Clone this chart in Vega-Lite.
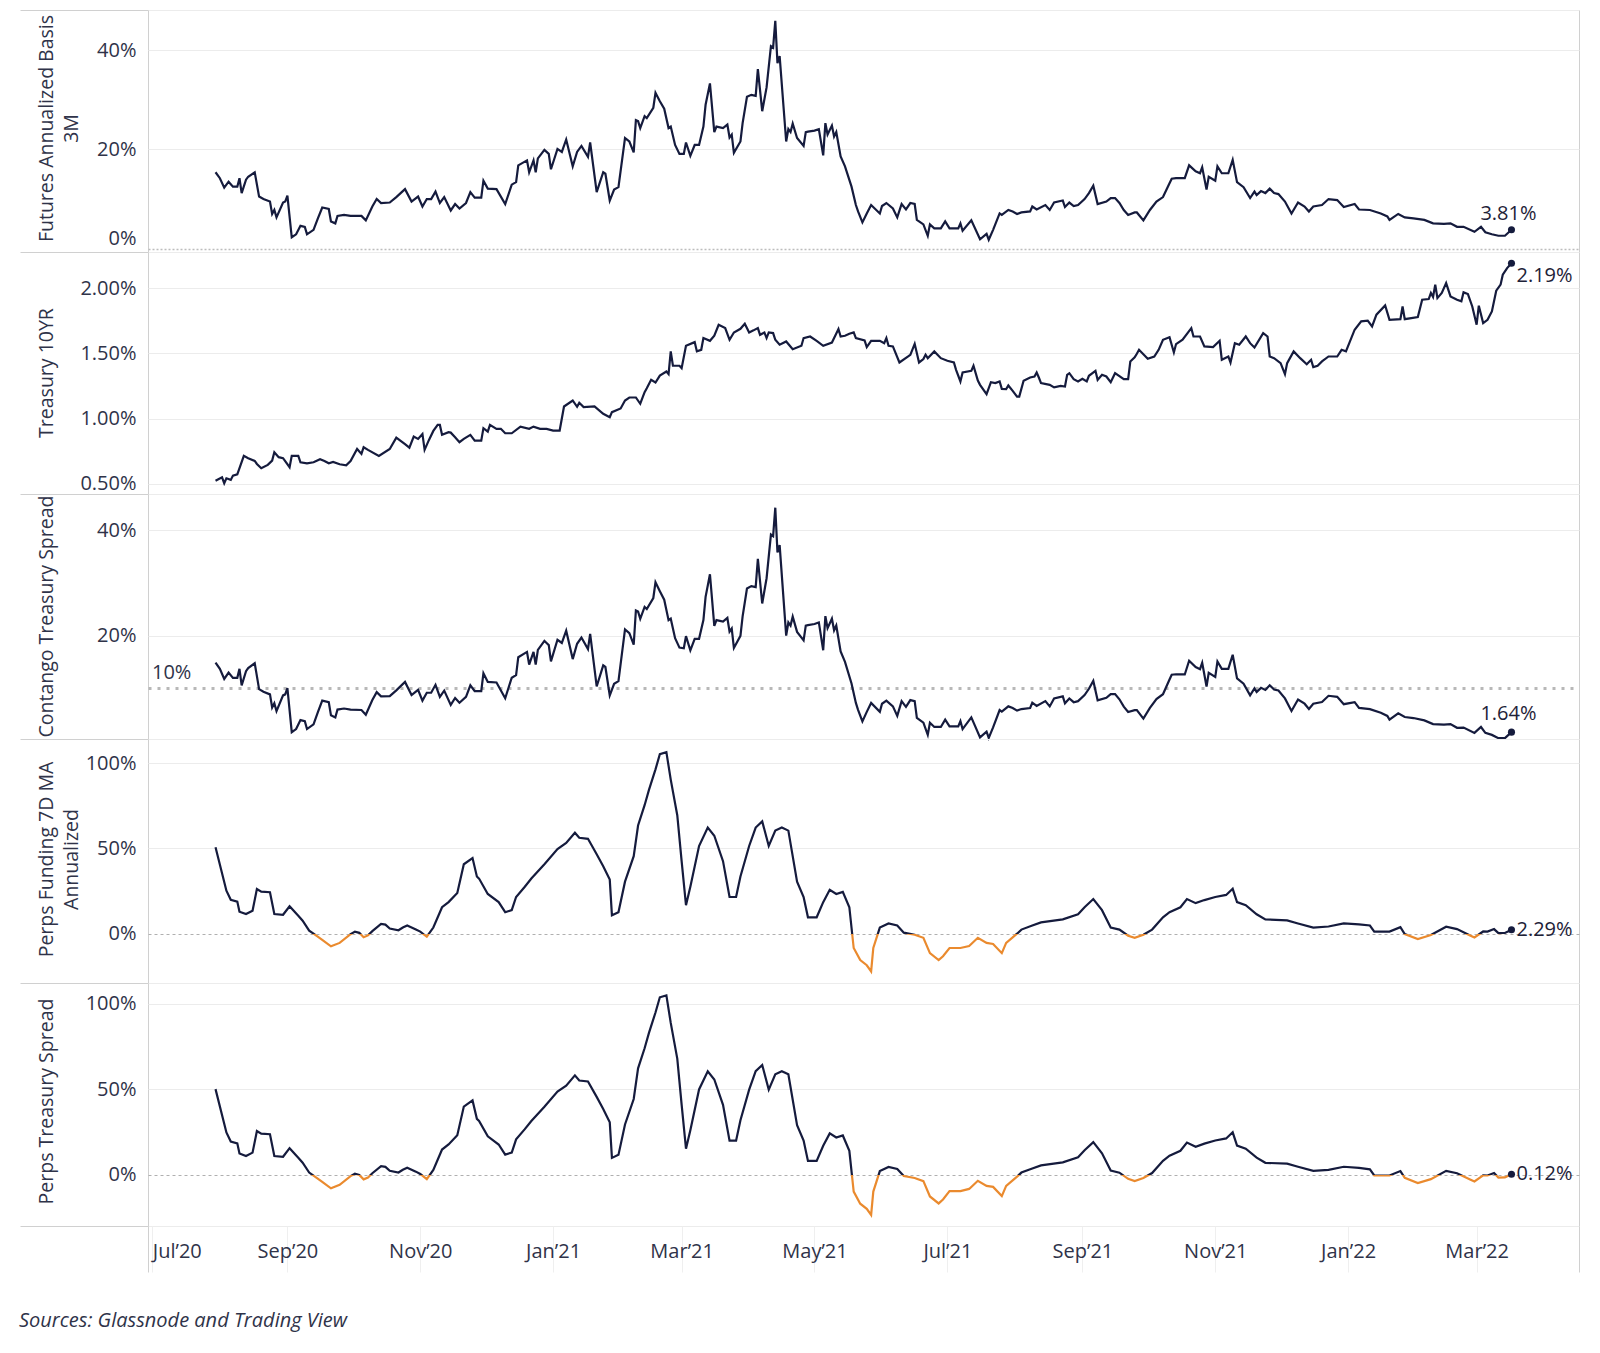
{
"$schema": "https://vega.github.io/schema/vega-lite/v6.json",
"background": "white",
"padding": {"left": 19, "top": 9, "right": 10, "bottom": 10},
"spacing": 0,
"bounds": "flush",
"title": {"text": "Sources: Glassnode and Trading View", "orient": "bottom", "anchor": "start", "frame": "bounds", "fontSize": 20, "fontStyle": "italic", "fontWeight": "normal", "font": "Open Sans", "color": "#2f3349", "offset": 38, "dx": 0},
"config": {
  "view": {"stroke": "#d0d0d0", "strokeWidth": 1},
  "font": "Open Sans",
  "axis": {"labelFont": "Open Sans", "titleFont": "Open Sans", "labelColor": "#2f3349", "titleColor": "#2f3349", "labelFontSize": 20, "titleFontSize": 19.5, "titleFontWeight": "normal", "gridColor": "#ececec", "gridWidth": 1},
  "axisY": {"ticks": true, "tickSize": 128, "tickWidth": 1, "labelPadding": -116, "domain": false}
},
"resolve": {"scale": {"y": "independent"}},
"datasets": {
"fut": [
{"d":"2020-07-30","v":0.154},{"d":"2020-08-01","v":0.142},{"d":"2020-08-03","v":0.123},{"d":"2020-08-05","v":0.135},{"d":"2020-08-07","v":0.125},{"d":"2020-08-09","v":0.125},{"d":"2020-08-10","v":0.142},{"d":"2020-08-11","v":0.112},{"d":"2020-08-13","v":0.139},{"d":"2020-08-14","v":0.145},{"d":"2020-08-17","v":0.154},{"d":"2020-08-19","v":0.105},{"d":"2020-08-21","v":0.100},{"d":"2020-08-24","v":0.095},{"d":"2020-08-25","v":0.070},{"d":"2020-08-26","v":0.078},{"d":"2020-08-27","v":0.063},{"d":"2020-08-30","v":0.093},{"d":"2020-08-31","v":0.095},{"d":"2020-09-01","v":0.107},{"d":"2020-09-03","v":0.023},{"d":"2020-09-05","v":0.029},{"d":"2020-09-07","v":0.046},{"d":"2020-09-09","v":0.044},{"d":"2020-09-10","v":0.029},{"d":"2020-09-13","v":0.038},{"d":"2020-09-15","v":0.061},{"d":"2020-09-17","v":0.083},{"d":"2020-09-20","v":0.080},{"d":"2020-09-21","v":0.055},{"d":"2020-09-23","v":0.051},{"d":"2020-09-24","v":0.066},{"d":"2020-09-27","v":0.068},{"d":"2020-09-30","v":0.066},{"d":"2020-10-05","v":0.066},{"d":"2020-10-07","v":0.057},{"d":"2020-10-10","v":0.085},{"d":"2020-10-12","v":0.100},{"d":"2020-10-14","v":0.092},{"d":"2020-10-18","v":0.093},{"d":"2020-10-21","v":0.104},{"d":"2020-10-25","v":0.120},{"d":"2020-10-28","v":0.095},{"d":"2020-10-31","v":0.105},{"d":"2020-11-02","v":0.085},{"d":"2020-11-04","v":0.100},{"d":"2020-11-06","v":0.100},{"d":"2020-11-08","v":0.115},{"d":"2020-11-10","v":0.092},{"d":"2020-11-12","v":0.104},{"d":"2020-11-15","v":0.077},{"d":"2020-11-17","v":0.090},{"d":"2020-11-19","v":0.081},{"d":"2020-11-22","v":0.092},{"d":"2020-11-24","v":0.114},{"d":"2020-11-26","v":0.103},{"d":"2020-11-29","v":0.103},{"d":"2020-11-30","v":0.137},{"d":"2020-12-02","v":0.121},{"d":"2020-12-06","v":0.120},{"d":"2020-12-10","v":0.090},{"d":"2020-12-13","v":0.129},{"d":"2020-12-15","v":0.134},{"d":"2020-12-16","v":0.168},{"d":"2020-12-20","v":0.178},{"d":"2020-12-21","v":0.154},{"d":"2020-12-23","v":0.178},{"d":"2020-12-24","v":0.154},{"d":"2020-12-25","v":0.182},{"d":"2020-12-28","v":0.199},{"d":"2020-12-29","v":0.195},{"d":"2020-12-30","v":0.191},{"d":"2020-12-31","v":0.160},{"d":"2021-01-03","v":0.201},{"d":"2021-01-05","v":0.195},{"d":"2021-01-07","v":0.220},{"d":"2021-01-10","v":0.166},{"d":"2021-01-12","v":0.195},{"d":"2021-01-14","v":0.207},{"d":"2021-01-17","v":0.185},{"d":"2021-01-18","v":0.214},{"d":"2021-01-21","v":0.114},{"d":"2021-01-24","v":0.154},{"d":"2021-01-25","v":0.151},{"d":"2021-01-27","v":0.097},{"d":"2021-01-29","v":0.119},{"d":"2021-01-31","v":0.124},{"d":"2021-02-03","v":0.223},{"d":"2021-02-05","v":0.216},{"d":"2021-02-07","v":0.194},{"d":"2021-02-08","v":0.259},{"d":"2021-02-09","v":0.257},{"d":"2021-02-10","v":0.243},{"d":"2021-02-12","v":0.267},{"d":"2021-02-13","v":0.263},{"d":"2021-02-16","v":0.284},{"d":"2021-02-17","v":0.314},{"d":"2021-02-19","v":0.297},{"d":"2021-02-21","v":0.282},{"d":"2021-02-23","v":0.243},{"d":"2021-02-24","v":0.246},{"d":"2021-02-26","v":0.209},{"d":"2021-02-28","v":0.191},{"d":"2021-03-02","v":0.191},{"d":"2021-03-03","v":0.214},{"d":"2021-03-05","v":0.187},{"d":"2021-03-07","v":0.209},{"d":"2021-03-09","v":0.209},{"d":"2021-03-11","v":0.246},{"d":"2021-03-12","v":0.290},{"d":"2021-03-14","v":0.333},{"d":"2021-03-16","v":0.235},{"d":"2021-03-17","v":0.246},{"d":"2021-03-20","v":0.243},{"d":"2021-03-22","v":0.250},{"d":"2021-03-23","v":0.224},{"d":"2021-03-24","v":0.230},{"d":"2021-03-25","v":0.193},{"d":"2021-03-28","v":0.216},{"d":"2021-03-29","v":0.253},{"d":"2021-03-31","v":0.306},{"d":"2021-04-02","v":0.310},{"d":"2021-04-04","v":0.308},{"d":"2021-04-05","v":0.362},{"d":"2021-04-07","v":0.277},{"d":"2021-04-09","v":0.325},{"d":"2021-04-11","v":0.408},{"d":"2021-04-12","v":0.405},{"d":"2021-04-13","v":0.459},{"d":"2021-04-14","v":0.374},{"d":"2021-04-15","v":0.388},{"d":"2021-04-18","v":0.216},{"d":"2021-04-19","v":0.241},{"d":"2021-04-20","v":0.235},{"d":"2021-04-21","v":0.252},{"d":"2021-04-23","v":0.223},{"d":"2021-04-26","v":0.207},{"d":"2021-04-27","v":0.235},{"d":"2021-04-28","v":0.236},{"d":"2021-05-01","v":0.238},{"d":"2021-05-03","v":0.241},{"d":"2021-05-05","v":0.188},{"d":"2021-05-06","v":0.253},{"d":"2021-05-07","v":0.230},{"d":"2021-05-09","v":0.248},{"d":"2021-05-10","v":0.226},{"d":"2021-05-11","v":0.235},{"d":"2021-05-13","v":0.186},{"d":"2021-05-15","v":0.166},{"d":"2021-05-18","v":0.125},{"d":"2021-05-20","v":0.088},{"d":"2021-05-21","v":0.075},{"d":"2021-05-23","v":0.053},{"d":"2021-05-25","v":0.071},{"d":"2021-05-27","v":0.088},{"d":"2021-05-31","v":0.071},{"d":"2021-06-01","v":0.086},{"d":"2021-06-03","v":0.092},{"d":"2021-06-06","v":0.081},{"d":"2021-06-08","v":0.063},{"d":"2021-06-10","v":0.090},{"d":"2021-06-12","v":0.079},{"d":"2021-06-14","v":0.092},{"d":"2021-06-16","v":0.090},{"d":"2021-06-17","v":0.058},{"d":"2021-06-20","v":0.049},{"d":"2021-06-22","v":0.026},{"d":"2021-06-23","v":0.049},{"d":"2021-06-25","v":0.041},{"d":"2021-06-28","v":0.041},{"d":"2021-06-30","v":0.055},{"d":"2021-07-02","v":0.041},{"d":"2021-07-06","v":0.041},{"d":"2021-07-07","v":0.051},{"d":"2021-07-08","v":0.036},{"d":"2021-07-12","v":0.057},{"d":"2021-07-16","v":0.019},{"d":"2021-07-19","v":0.030},{"d":"2021-07-20","v":0.018},{"d":"2021-07-22","v":0.038},{"d":"2021-07-25","v":0.071},{"d":"2021-07-26","v":0.068},{"d":"2021-07-29","v":0.078},{"d":"2021-07-31","v":0.075},{"d":"2021-08-02","v":0.070},{"d":"2021-08-04","v":0.073},{"d":"2021-08-08","v":0.075},{"d":"2021-08-09","v":0.085},{"d":"2021-08-11","v":0.079},{"d":"2021-08-15","v":0.088},{"d":"2021-08-17","v":0.078},{"d":"2021-08-19","v":0.093},{"d":"2021-08-23","v":0.097},{"d":"2021-08-24","v":0.084},{"d":"2021-08-26","v":0.093},{"d":"2021-08-28","v":0.086},{"d":"2021-08-30","v":0.088},{"d":"2021-09-02","v":0.100},{"d":"2021-09-04","v":0.112},{"d":"2021-09-06","v":0.127},{"d":"2021-09-08","v":0.090},{"d":"2021-09-12","v":0.095},{"d":"2021-09-14","v":0.102},{"d":"2021-09-16","v":0.102},{"d":"2021-09-18","v":0.092},{"d":"2021-09-20","v":0.078},{"d":"2021-09-22","v":0.068},{"d":"2021-09-25","v":0.073},{"d":"2021-09-26","v":0.073},{"d":"2021-09-29","v":0.057},{"d":"2021-10-02","v":0.078},{"d":"2021-10-05","v":0.095},{"d":"2021-10-08","v":0.104},{"d":"2021-10-11","v":0.132},{"d":"2021-10-12","v":0.141},{"d":"2021-10-14","v":0.142},{"d":"2021-10-18","v":0.142},{"d":"2021-10-20","v":0.168},{"d":"2021-10-23","v":0.156},{"d":"2021-10-25","v":0.152},{"d":"2021-10-26","v":0.164},{"d":"2021-10-28","v":0.119},{"d":"2021-10-29","v":0.145},{"d":"2021-11-01","v":0.137},{"d":"2021-11-02","v":0.166},{"d":"2021-11-04","v":0.152},{"d":"2021-11-07","v":0.152},{"d":"2021-11-09","v":0.179},{"d":"2021-11-11","v":0.134},{"d":"2021-11-14","v":0.124},{"d":"2021-11-17","v":0.102},{"d":"2021-11-19","v":0.115},{"d":"2021-11-20","v":0.108},{"d":"2021-11-22","v":0.116},{"d":"2021-11-24","v":0.112},{"d":"2021-11-26","v":0.121},{"d":"2021-11-28","v":0.112},{"d":"2021-11-30","v":0.110},{"d":"2021-12-03","v":0.095},{"d":"2021-12-06","v":0.071},{"d":"2021-12-09","v":0.093},{"d":"2021-12-12","v":0.085},{"d":"2021-12-14","v":0.075},{"d":"2021-12-16","v":0.085},{"d":"2021-12-20","v":0.088},{"d":"2021-12-23","v":0.100},{"d":"2021-12-27","v":0.098},{"d":"2021-12-30","v":0.084},{"d":"2022-01-04","v":0.090},{"d":"2022-01-06","v":0.079},{"d":"2022-01-11","v":0.078},{"d":"2022-01-16","v":0.071},{"d":"2022-01-19","v":0.065},{"d":"2022-01-20","v":0.058},{"d":"2022-01-24","v":0.070},{"d":"2022-01-27","v":0.063},{"d":"2022-01-31","v":0.061},{"d":"2022-02-05","v":0.058},{"d":"2022-02-09","v":0.051},{"d":"2022-02-14","v":0.050},{"d":"2022-02-17","v":0.051},{"d":"2022-02-20","v":0.044},{"d":"2022-02-23","v":0.044},{"d":"2022-02-28","v":0.034},{"d":"2022-03-03","v":0.044},{"d":"2022-03-05","v":0.033},{"d":"2022-03-08","v":0.029},{"d":"2022-03-11","v":0.026},{"d":"2022-03-14","v":0.026},{"d":"2022-03-17","v":0.0381}
],
"tsy": [
{"d":"2020-07-30","v":0.00525},{"d":"2020-08-02","v":0.00551},{"d":"2020-08-03","v":0.00505},{"d":"2020-08-04","v":0.00543},{"d":"2020-08-06","v":0.00531},{"d":"2020-08-07","v":0.00564},{"d":"2020-08-09","v":0.00574},{"d":"2020-08-12","v":0.00715},{"d":"2020-08-14","v":0.00697},{"d":"2020-08-17","v":0.00676},{"d":"2020-08-18","v":0.00653},{"d":"2020-08-20","v":0.0062},{"d":"2020-08-23","v":0.00646},{"d":"2020-08-25","v":0.00679},{"d":"2020-08-26","v":0.00743},{"d":"2020-08-28","v":0.00705},{"d":"2020-08-30","v":0.00697},{"d":"2020-09-02","v":0.00628},{"d":"2020-09-03","v":0.00715},{"d":"2020-09-06","v":0.00715},{"d":"2020-09-07","v":0.00666},{"d":"2020-09-10","v":0.00658},{"d":"2020-09-13","v":0.00666},{"d":"2020-09-16","v":0.00689},{"d":"2020-09-18","v":0.00676},{"d":"2020-09-20","v":0.00658},{"d":"2020-09-22","v":0.00669},{"d":"2020-09-25","v":0.00651},{"d":"2020-09-28","v":0.00643},{"d":"2020-09-30","v":0.00676},{"d":"2020-10-03","v":0.00768},{"d":"2020-10-05","v":0.0073},{"d":"2020-10-06","v":0.00781},{"d":"2020-10-08","v":0.00761},{"d":"2020-10-13","v":0.00715},{"d":"2020-10-18","v":0.00768},{"d":"2020-10-21","v":0.00855},{"d":"2020-10-25","v":0.00804},{"d":"2020-10-27","v":0.00778},{"d":"2020-10-29","v":0.00863},{"d":"2020-10-31","v":0.00845},{"d":"2020-11-02","v":0.00883},{"d":"2020-11-03","v":0.00761},{"d":"2020-11-05","v":0.00837},{"d":"2020-11-07","v":0.00906},{"d":"2020-11-09","v":0.00952},{"d":"2020-11-10","v":0.00952},{"d":"2020-11-11","v":0.00876},{"d":"2020-11-14","v":0.00896},{"d":"2020-11-15","v":0.00893},{"d":"2020-11-17","v":0.00858},{"d":"2020-11-19","v":0.0082},{"d":"2020-11-21","v":0.00845},{"d":"2020-11-24","v":0.00876},{"d":"2020-11-26","v":0.00832},{"d":"2020-11-29","v":0.00832},{"d":"2020-11-30","v":0.00927},{"d":"2020-12-02","v":0.00901},{"d":"2020-12-03","v":0.00952},{"d":"2020-12-06","v":0.00922},{"d":"2020-12-08","v":0.00922},{"d":"2020-12-10","v":0.00888},{"d":"2020-12-13","v":0.00888},{"d":"2020-12-17","v":0.00939},{"d":"2020-12-21","v":0.00922},{"d":"2020-12-23","v":0.00939},{"d":"2020-12-26","v":0.00922},{"d":"2020-12-29","v":0.00922},{"d":"2021-01-01","v":0.00909},{"d":"2021-01-04","v":0.00909},{"d":"2021-01-06","v":0.01093},{"d":"2021-01-10","v":0.01139},{"d":"2021-01-12","v":0.01091},{"d":"2021-01-13","v":0.01121},{"d":"2021-01-15","v":0.01088},{"d":"2021-01-20","v":0.01093},{"d":"2021-01-24","v":0.01037},{"d":"2021-01-27","v":0.01011},{"d":"2021-01-28","v":0.0105},{"d":"2021-02-01","v":0.01078},{"d":"2021-02-03","v":0.01139},{"d":"2021-02-05","v":0.01162},{"d":"2021-02-08","v":0.01162},{"d":"2021-02-10","v":0.01114},{"d":"2021-02-12","v":0.01203},{"d":"2021-02-13","v":0.01233},{"d":"2021-02-15","v":0.01297},{"d":"2021-02-17","v":0.01277},{"d":"2021-02-19","v":0.0133},{"d":"2021-02-22","v":0.01361},{"d":"2021-02-23","v":0.01341},{"d":"2021-02-24","v":0.01515},{"d":"2021-02-25","v":0.01405},{"d":"2021-02-28","v":0.01405},{"d":"2021-03-01","v":0.01387},{"d":"2021-03-03","v":0.01558},{"d":"2021-03-07","v":0.01586},{"d":"2021-03-08","v":0.01515},{"d":"2021-03-10","v":0.01527},{"d":"2021-03-11","v":0.01617},{"d":"2021-03-14","v":0.01596},{"d":"2021-03-16","v":0.01635},{"d":"2021-03-18","v":0.01719},{"d":"2021-03-21","v":0.01693},{"d":"2021-03-23","v":0.01604},{"d":"2021-03-25","v":0.0166},{"d":"2021-03-28","v":0.01688},{"d":"2021-03-30","v":0.01727},{"d":"2021-04-01","v":0.0166},{"d":"2021-04-03","v":0.01676},{"d":"2021-04-05","v":0.01693},{"d":"2021-04-06","v":0.01642},{"d":"2021-04-08","v":0.0166},{"d":"2021-04-09","v":0.01617},{"d":"2021-04-10","v":0.0166},{"d":"2021-04-12","v":0.01655},{"d":"2021-04-13","v":0.01604},{"d":"2021-04-15","v":0.01566},{"d":"2021-04-18","v":0.01591},{"d":"2021-04-21","v":0.01532},{"d":"2021-04-25","v":0.01558},{"d":"2021-04-26","v":0.01617},{"d":"2021-04-29","v":0.01629},{"d":"2021-05-02","v":0.01596},{"d":"2021-05-05","v":0.01558},{"d":"2021-05-09","v":0.01583},{"d":"2021-05-12","v":0.01686},{"d":"2021-05-13","v":0.01629},{"d":"2021-05-15","v":0.01635},{"d":"2021-05-17","v":0.0165},{"d":"2021-05-19","v":0.0166},{"d":"2021-05-20","v":0.01617},{"d":"2021-05-24","v":0.01599},{"d":"2021-05-25","v":0.01548},{"d":"2021-05-27","v":0.01596},{"d":"2021-05-31","v":0.01596},{"d":"2021-06-02","v":0.01578},{"d":"2021-06-03","v":0.01617},{"d":"2021-06-04","v":0.01558},{"d":"2021-06-06","v":0.01553},{"d":"2021-06-09","v":0.0143},{"d":"2021-06-13","v":0.01476},{"d":"2021-06-14","v":0.01489},{"d":"2021-06-16","v":0.01573},{"d":"2021-06-18","v":0.0143},{"d":"2021-06-20","v":0.01456},{"d":"2021-06-21","v":0.01489},{"d":"2021-06-22","v":0.01463},{"d":"2021-06-25","v":0.01515},{"d":"2021-06-28","v":0.01463},{"d":"2021-07-01","v":0.01443},{"d":"2021-07-04","v":0.0143},{"d":"2021-07-05","v":0.01374},{"d":"2021-07-07","v":0.01285},{"d":"2021-07-08","v":0.01353},{"d":"2021-07-12","v":0.01366},{"d":"2021-07-13","v":0.01405},{"d":"2021-07-15","v":0.01292},{"d":"2021-07-16","v":0.01259},{"d":"2021-07-19","v":0.01188},{"d":"2021-07-21","v":0.01279},{"d":"2021-07-23","v":0.01272},{"d":"2021-07-25","v":0.01285},{"d":"2021-07-26","v":0.01228},{"d":"2021-07-28","v":0.01226},{"d":"2021-07-29","v":0.01254},{"d":"2021-07-31","v":0.01213},{"d":"2021-08-02","v":0.01169},{"d":"2021-08-03","v":0.01169},{"d":"2021-08-05","v":0.0129},{"d":"2021-08-08","v":0.01315},{"d":"2021-08-10","v":0.01323},{"d":"2021-08-11","v":0.01353},{"d":"2021-08-12","v":0.01315},{"d":"2021-08-13","v":0.01272},{"d":"2021-08-17","v":0.01259},{"d":"2021-08-19","v":0.01239},{"d":"2021-08-22","v":0.01251},{"d":"2021-08-24","v":0.01246},{"d":"2021-08-25","v":0.01336},{"d":"2021-08-26","v":0.01348},{"d":"2021-08-28","v":0.01302},{"d":"2021-08-30","v":0.01285},{"d":"2021-09-01","v":0.01305},{"d":"2021-09-03","v":0.01285},{"d":"2021-09-04","v":0.01328},{"d":"2021-09-07","v":0.01366},{"d":"2021-09-08","v":0.01297},{"d":"2021-09-10","v":0.01336},{"d":"2021-09-12","v":0.01323},{"d":"2021-09-14","v":0.01279},{"d":"2021-09-16","v":0.01348},{"d":"2021-09-20","v":0.01302},{"d":"2021-09-22","v":0.01302},{"d":"2021-09-23","v":0.01438},{"d":"2021-09-25","v":0.01469},{"d":"2021-09-26","v":0.01497},{"d":"2021-09-27","v":0.01527},{"d":"2021-10-01","v":0.01458},{"d":"2021-10-04","v":0.01476},{"d":"2021-10-06","v":0.01527},{"d":"2021-10-08","v":0.01604},{"d":"2021-10-11","v":0.01624},{"d":"2021-10-13","v":0.01507},{"d":"2021-10-14","v":0.01571},{"d":"2021-10-17","v":0.01604},{"d":"2021-10-21","v":0.01693},{"d":"2021-10-22","v":0.01629},{"d":"2021-10-25","v":0.01629},{"d":"2021-10-27","v":0.01553},{"d":"2021-10-31","v":0.01548},{"d":"2021-11-03","v":0.01596},{"d":"2021-11-04","v":0.01451},{"d":"2021-11-07","v":0.01476},{"d":"2021-11-08","v":0.0143},{"d":"2021-11-10","v":0.01578},{"d":"2021-11-12","v":0.01566},{"d":"2021-11-15","v":0.01629},{"d":"2021-11-17","v":0.01578},{"d":"2021-11-19","v":0.01545},{"d":"2021-11-23","v":0.01655},{"d":"2021-11-25","v":0.01629},{"d":"2021-11-26","v":0.01476},{"d":"2021-11-28","v":0.01463},{"d":"2021-12-01","v":0.01425},{"d":"2021-12-03","v":0.01341},{"d":"2021-12-04","v":0.01425},{"d":"2021-12-07","v":0.01515},{"d":"2021-12-10","v":0.01463},{"d":"2021-12-13","v":0.01417},{"d":"2021-12-15","v":0.01451},{"d":"2021-12-16","v":0.01395},{"d":"2021-12-18","v":0.01405},{"d":"2021-12-20","v":0.01438},{"d":"2021-12-23","v":0.01476},{"d":"2021-12-27","v":0.01476},{"d":"2021-12-29","v":0.01527},{"d":"2021-12-31","v":0.01515},{"d":"2022-01-04","v":0.01681},{"d":"2022-01-07","v":0.01745},{"d":"2022-01-10","v":0.0175},{"d":"2022-01-12","v":0.01706},{"d":"2022-01-14","v":0.01796},{"d":"2022-01-18","v":0.01867},{"d":"2022-01-20","v":0.01757},{"d":"2022-01-25","v":0.01762},{"d":"2022-01-26","v":0.01859},{"d":"2022-01-27","v":0.01762},{"d":"2022-01-30","v":0.0177},{"d":"2022-02-02","v":0.01778},{"d":"2022-02-04","v":0.01911},{"d":"2022-02-07","v":0.01916},{"d":"2022-02-08","v":0.01962},{"d":"2022-02-09","v":0.01931},{"d":"2022-02-10","v":0.02026},{"d":"2022-02-11","v":0.01923},{"d":"2022-02-13","v":0.01962},{"d":"2022-02-15","v":0.02038},{"d":"2022-02-17","v":0.01936},{"d":"2022-02-20","v":0.01911},{"d":"2022-02-22","v":0.01898},{"d":"2022-02-23","v":0.01967},{"d":"2022-02-25","v":0.01954},{"d":"2022-02-27","v":0.01859},{"d":"2022-03-01","v":0.01719},{"d":"2022-03-02","v":0.01865},{"d":"2022-03-04","v":0.01732},{"d":"2022-03-06","v":0.01757},{"d":"2022-03-08","v":0.01821},{"d":"2022-03-10","v":0.0198},{"d":"2022-03-12","v":0.02026},{"d":"2022-03-13","v":0.02102},{"d":"2022-03-15","v":0.02153},{"d":"2022-03-17","v":0.0219}
],
"con": [
{"d":"2020-07-30","v":0.1486},{"d":"2020-08-01","v":0.1366},{"d":"2020-08-03","v":0.1176},{"d":"2020-08-05","v":0.1296},{"d":"2020-08-07","v":0.1196},{"d":"2020-08-09","v":0.1196},{"d":"2020-08-10","v":0.1366},{"d":"2020-08-11","v":0.1052},{"d":"2020-08-13","v":0.1322},{"d":"2020-08-14","v":0.1382},{"d":"2020-08-17","v":0.1472},{"d":"2020-08-19","v":0.0982},{"d":"2020-08-21","v":0.0932},{"d":"2020-08-24","v":0.0882},{"d":"2020-08-25","v":0.0632},{"d":"2020-08-26","v":0.0712},{"d":"2020-08-27","v":0.0562},{"d":"2020-08-30","v":0.0862},{"d":"2020-08-31","v":0.0882},{"d":"2020-09-01","v":0.1003},{"d":"2020-09-03","v":0.0163},{"d":"2020-09-05","v":0.0223},{"d":"2020-09-07","v":0.0393},{"d":"2020-09-09","v":0.0373},{"d":"2020-09-10","v":0.0223},{"d":"2020-09-13","v":0.0313},{"d":"2020-09-15","v":0.0543},{"d":"2020-09-17","v":0.0763},{"d":"2020-09-20","v":0.0733},{"d":"2020-09-21","v":0.0483},{"d":"2020-09-23","v":0.0443},{"d":"2020-09-24","v":0.0593},{"d":"2020-09-27","v":0.0613},{"d":"2020-09-30","v":0.0593},{"d":"2020-10-05","v":0.0585},{"d":"2020-10-07","v":0.0495},{"d":"2020-10-10","v":0.0775},{"d":"2020-10-12","v":0.0925},{"d":"2020-10-14","v":0.0845},{"d":"2020-10-18","v":0.0848},{"d":"2020-10-21","v":0.0958},{"d":"2020-10-25","v":0.1118},{"d":"2020-10-28","v":0.0868},{"d":"2020-10-31","v":0.0968},{"d":"2020-11-02","v":0.0763},{"d":"2020-11-04","v":0.0913},{"d":"2020-11-06","v":0.0913},{"d":"2020-11-08","v":0.1063},{"d":"2020-11-10","v":0.0833},{"d":"2020-11-12","v":0.0953},{"d":"2020-11-15","v":0.0683},{"d":"2020-11-17","v":0.0813},{"d":"2020-11-19","v":0.0723},{"d":"2020-11-22","v":0.0833},{"d":"2020-11-24","v":0.1053},{"d":"2020-11-26","v":0.0943},{"d":"2020-11-29","v":0.0943},{"d":"2020-11-30","v":0.1283},{"d":"2020-12-02","v":0.1118},{"d":"2020-12-06","v":0.1108},{"d":"2020-12-10","v":0.0808},{"d":"2020-12-13","v":0.1198},{"d":"2020-12-15","v":0.1248},{"d":"2020-12-16","v":0.1588},{"d":"2020-12-20","v":0.1688},{"d":"2020-12-21","v":0.1448},{"d":"2020-12-23","v":0.1688},{"d":"2020-12-24","v":0.1448},{"d":"2020-12-25","v":0.1728},{"d":"2020-12-28","v":0.1898},{"d":"2020-12-29","v":0.1858},{"d":"2020-12-30","v":0.1818},{"d":"2020-12-31","v":0.1508},{"d":"2021-01-03","v":0.1919},{"d":"2021-01-05","v":0.1859},{"d":"2021-01-07","v":0.2092},{"d":"2021-01-10","v":0.1552},{"d":"2021-01-12","v":0.1842},{"d":"2021-01-14","v":0.1962},{"d":"2021-01-17","v":0.1742},{"d":"2021-01-18","v":0.2032},{"d":"2021-01-21","v":0.1032},{"d":"2021-01-24","v":0.1432},{"d":"2021-01-25","v":0.1402},{"d":"2021-01-27","v":0.0862},{"d":"2021-01-29","v":0.1082},{"d":"2021-01-31","v":0.1132},{"d":"2021-02-03","v":0.2116},{"d":"2021-02-05","v":0.2046},{"d":"2021-02-07","v":0.1826},{"d":"2021-02-08","v":0.2476},{"d":"2021-02-09","v":0.2456},{"d":"2021-02-10","v":0.2316},{"d":"2021-02-12","v":0.2542},{"d":"2021-02-13","v":0.2502},{"d":"2021-02-16","v":0.2712},{"d":"2021-02-17","v":0.3012},{"d":"2021-02-19","v":0.2842},{"d":"2021-02-21","v":0.268},{"d":"2021-02-23","v":0.229},{"d":"2021-02-24","v":0.232},{"d":"2021-02-26","v":0.195},{"d":"2021-02-28","v":0.177},{"d":"2021-03-02","v":0.1757},{"d":"2021-03-03","v":0.1987},{"d":"2021-03-05","v":0.1717},{"d":"2021-03-07","v":0.1937},{"d":"2021-03-09","v":0.1937},{"d":"2021-03-11","v":0.2293},{"d":"2021-03-12","v":0.2733},{"d":"2021-03-14","v":0.3163},{"d":"2021-03-16","v":0.2183},{"d":"2021-03-17","v":0.2293},{"d":"2021-03-20","v":0.2263},{"d":"2021-03-22","v":0.2333},{"d":"2021-03-23","v":0.2073},{"d":"2021-03-24","v":0.2133},{"d":"2021-03-25","v":0.1763},{"d":"2021-03-28","v":0.1993},{"d":"2021-03-29","v":0.2363},{"d":"2021-03-31","v":0.2893},{"d":"2021-04-02","v":0.2938},{"d":"2021-04-04","v":0.2918},{"d":"2021-04-05","v":0.3458},{"d":"2021-04-07","v":0.2608},{"d":"2021-04-09","v":0.3088},{"d":"2021-04-11","v":0.3918},{"d":"2021-04-12","v":0.3888},{"d":"2021-04-13","v":0.4428},{"d":"2021-04-14","v":0.3578},{"d":"2021-04-15","v":0.3718},{"d":"2021-04-18","v":0.1998},{"d":"2021-04-19","v":0.2248},{"d":"2021-04-20","v":0.2188},{"d":"2021-04-21","v":0.2358},{"d":"2021-04-23","v":0.2068},{"d":"2021-04-26","v":0.1908},{"d":"2021-04-27","v":0.2188},{"d":"2021-04-28","v":0.2198},{"d":"2021-05-01","v":0.2219},{"d":"2021-05-03","v":0.2249},{"d":"2021-05-05","v":0.1719},{"d":"2021-05-06","v":0.2369},{"d":"2021-05-07","v":0.2139},{"d":"2021-05-09","v":0.2319},{"d":"2021-05-10","v":0.2099},{"d":"2021-05-11","v":0.2189},{"d":"2021-05-13","v":0.1699},{"d":"2021-05-15","v":0.1499},{"d":"2021-05-18","v":0.1089},{"d":"2021-05-20","v":0.0719},{"d":"2021-05-21","v":0.0589},{"d":"2021-05-23","v":0.0369},{"d":"2021-05-25","v":0.0549},{"d":"2021-05-27","v":0.0719},{"d":"2021-05-31","v":0.0549},{"d":"2021-06-01","v":0.0703},{"d":"2021-06-03","v":0.0763},{"d":"2021-06-06","v":0.0653},{"d":"2021-06-08","v":0.0473},{"d":"2021-06-10","v":0.0753},{"d":"2021-06-12","v":0.0643},{"d":"2021-06-14","v":0.0773},{"d":"2021-06-16","v":0.0753},{"d":"2021-06-17","v":0.0433},{"d":"2021-06-20","v":0.0343},{"d":"2021-06-22","v":0.0113},{"d":"2021-06-23","v":0.0343},{"d":"2021-06-25","v":0.0263},{"d":"2021-06-28","v":0.0263},{"d":"2021-06-30","v":0.0403},{"d":"2021-07-02","v":0.0273},{"d":"2021-07-06","v":0.0273},{"d":"2021-07-07","v":0.0373},{"d":"2021-07-08","v":0.0223},{"d":"2021-07-12","v":0.0444},{"d":"2021-07-16","v":0.0064},{"d":"2021-07-19","v":0.0174},{"d":"2021-07-20","v":0.0054},{"d":"2021-07-22","v":0.0254},{"d":"2021-07-25","v":0.0584},{"d":"2021-07-26","v":0.0554},{"d":"2021-07-29","v":0.0654},{"d":"2021-07-31","v":0.0624},{"d":"2021-08-02","v":0.0573},{"d":"2021-08-04","v":0.0603},{"d":"2021-08-08","v":0.0623},{"d":"2021-08-09","v":0.0723},{"d":"2021-08-11","v":0.0663},{"d":"2021-08-15","v":0.0753},{"d":"2021-08-17","v":0.0653},{"d":"2021-08-19","v":0.0803},{"d":"2021-08-23","v":0.0843},{"d":"2021-08-24","v":0.0713},{"d":"2021-08-26","v":0.0803},{"d":"2021-08-28","v":0.0733},{"d":"2021-08-30","v":0.0753},{"d":"2021-09-02","v":0.0868},{"d":"2021-09-04","v":0.0988},{"d":"2021-09-06","v":0.1138},{"d":"2021-09-08","v":0.0768},{"d":"2021-09-12","v":0.0818},{"d":"2021-09-14","v":0.0888},{"d":"2021-09-16","v":0.0888},{"d":"2021-09-18","v":0.0788},{"d":"2021-09-20","v":0.0648},{"d":"2021-09-22","v":0.0548},{"d":"2021-09-25","v":0.0582},{"d":"2021-09-26","v":0.0582},{"d":"2021-09-29","v":0.0422},{"d":"2021-10-02","v":0.0624},{"d":"2021-10-05","v":0.0794},{"d":"2021-10-08","v":0.0884},{"d":"2021-10-11","v":0.1164},{"d":"2021-10-12","v":0.1254},{"d":"2021-10-14","v":0.1264},{"d":"2021-10-18","v":0.126},{"d":"2021-10-20","v":0.152},{"d":"2021-10-23","v":0.14},{"d":"2021-10-25","v":0.136},{"d":"2021-10-26","v":0.148},{"d":"2021-10-28","v":0.103},{"d":"2021-10-29","v":0.129},{"d":"2021-11-01","v":0.1215},{"d":"2021-11-02","v":0.1505},{"d":"2021-11-04","v":0.1365},{"d":"2021-11-07","v":0.1365},{"d":"2021-11-09","v":0.1635},{"d":"2021-11-11","v":0.1185},{"d":"2021-11-14","v":0.1085},{"d":"2021-11-17","v":0.0865},{"d":"2021-11-19","v":0.0995},{"d":"2021-11-20","v":0.0925},{"d":"2021-11-22","v":0.1005},{"d":"2021-11-24","v":0.0965},{"d":"2021-11-26","v":0.1055},{"d":"2021-11-28","v":0.0975},{"d":"2021-11-30","v":0.0955},{"d":"2021-12-03","v":0.0805},{"d":"2021-12-06","v":0.0565},{"d":"2021-12-09","v":0.0785},{"d":"2021-12-12","v":0.0705},{"d":"2021-12-14","v":0.0605},{"d":"2021-12-16","v":0.0705},{"d":"2021-12-20","v":0.0735},{"d":"2021-12-23","v":0.0855},{"d":"2021-12-27","v":0.0835},{"d":"2021-12-30","v":0.0695},{"d":"2022-01-04","v":0.0735},{"d":"2022-01-06","v":0.0625},{"d":"2022-01-11","v":0.0602},{"d":"2022-01-16","v":0.0532},{"d":"2022-01-19","v":0.0472},{"d":"2022-01-20","v":0.0402},{"d":"2022-01-24","v":0.0522},{"d":"2022-01-27","v":0.0452},{"d":"2022-01-31","v":0.0432},{"d":"2022-02-05","v":0.0387},{"d":"2022-02-09","v":0.0317},{"d":"2022-02-14","v":0.0307},{"d":"2022-02-17","v":0.0317},{"d":"2022-02-20","v":0.0247},{"d":"2022-02-23","v":0.025},{"d":"2022-02-28","v":0.015},{"d":"2022-03-03","v":0.0262},{"d":"2022-03-05","v":0.0152},{"d":"2022-03-08","v":0.0112},{"d":"2022-03-11","v":0.005},{"d":"2022-03-14","v":0.005},{"d":"2022-03-17","v":0.0164}
],
"perp": [
{"d":"2020-07-30","v":0.506},{"d":"2020-08-04","v":0.252},{"d":"2020-08-06","v":0.199},{"d":"2020-08-09","v":0.188},{"d":"2020-08-10","v":0.129},{"d":"2020-08-13","v":0.115},{"d":"2020-08-16","v":0.135},{"d":"2020-08-18","v":0.262},{"d":"2020-08-20","v":0.246},{"d":"2020-08-24","v":0.243},{"d":"2020-08-26","v":0.115},{"d":"2020-08-30","v":0.111},{"d":"2020-09-02","v":0.161},{"d":"2020-09-06","v":0.105},{"d":"2020-09-08","v":0.076},{"d":"2020-09-11","v":0.018},{"d":"2020-09-13","v":0.0},{"d":"2020-09-17","v":-0.036},{"d":"2020-09-21","v":-0.074},{"d":"2020-09-25","v":-0.054},{"d":"2020-09-30","v":-0.003},{"d":"2020-10-02","v":0.012},{"d":"2020-10-04","v":0.005},{"d":"2020-10-06","v":-0.021},{"d":"2020-10-08","v":-0.010},{"d":"2020-10-10","v":0.015},{"d":"2020-10-14","v":0.057},{"d":"2020-10-16","v":0.053},{"d":"2020-10-18","v":0.030},{"d":"2020-10-22","v":0.020},{"d":"2020-10-24","v":0.036},{"d":"2020-10-26","v":0.048},{"d":"2020-10-30","v":0.025},{"d":"2020-11-01","v":0.012},{"d":"2020-11-04","v":-0.018},{"d":"2020-11-07","v":0.036},{"d":"2020-11-11","v":0.155},{"d":"2020-11-14","v":0.185},{"d":"2020-11-18","v":0.239},{"d":"2020-11-21","v":0.407},{"d":"2020-11-25","v":0.443},{"d":"2020-11-27","v":0.335},{"d":"2020-11-28","v":0.323},{"d":"2020-12-02","v":0.233},{"d":"2020-12-07","v":0.185},{"d":"2020-12-10","v":0.126},{"d":"2020-12-13","v":0.138},{"d":"2020-12-15","v":0.215},{"d":"2020-12-19","v":0.275},{"d":"2020-12-22","v":0.323},{"d":"2020-12-28","v":0.407},{"d":"2021-01-03","v":0.496},{"d":"2021-01-07","v":0.532},{"d":"2021-01-11","v":0.592},{"d":"2021-01-13","v":0.562},{"d":"2021-01-17","v":0.556},{"d":"2021-01-21","v":0.466},{"d":"2021-01-24","v":0.395},{"d":"2021-01-27","v":0.317},{"d":"2021-01-28","v":0.108},{"d":"2021-01-31","v":0.126},{"d":"2021-02-03","v":0.305},{"d":"2021-02-07","v":0.454},{"d":"2021-02-09","v":0.634},{"d":"2021-02-12","v":0.753},{"d":"2021-02-14","v":0.843},{"d":"2021-02-17","v":0.963},{"d":"2021-02-19","v":1.052},{"d":"2021-02-22","v":1.064},{"d":"2021-02-24","v":0.903},{"d":"2021-02-27","v":0.694},{"d":"2021-03-01","v":0.425},{"d":"2021-03-03","v":0.167},{"d":"2021-03-05","v":0.275},{"d":"2021-03-09","v":0.514},{"d":"2021-03-13","v":0.622},{"d":"2021-03-16","v":0.574},{"d":"2021-03-20","v":0.425},{"d":"2021-03-23","v":0.215},{"d":"2021-03-26","v":0.215},{"d":"2021-03-28","v":0.335},{"d":"2021-04-01","v":0.514},{"d":"2021-04-04","v":0.622},{"d":"2021-04-07","v":0.658},{"d":"2021-04-10","v":0.514},{"d":"2021-04-13","v":0.604},{"d":"2021-04-16","v":0.622},{"d":"2021-04-19","v":0.604},{"d":"2021-04-23","v":0.305},{"d":"2021-04-26","v":0.215},{"d":"2021-04-28","v":0.096},{"d":"2021-05-02","v":0.096},{"d":"2021-05-05","v":0.185},{"d":"2021-05-08","v":0.257},{"d":"2021-05-11","v":0.233},{"d":"2021-05-14","v":0.245},{"d":"2021-05-17","v":0.155},{"d":"2021-05-19","v":-0.084},{"d":"2021-05-22","v":-0.155},{"d":"2021-05-25","v":-0.185},{"d":"2021-05-27","v":-0.221},{"d":"2021-05-28","v":-0.084},{"d":"2021-05-31","v":0.036},{"d":"2021-06-04","v":0.060},{"d":"2021-06-08","v":0.048},{"d":"2021-06-11","v":0.006},{"d":"2021-06-16","v":-0.006},{"d":"2021-06-20","v":-0.024},{"d":"2021-06-23","v":-0.114},{"d":"2021-06-27","v":-0.155},{"d":"2021-06-29","v":-0.132},{"d":"2021-07-02","v":-0.084},{"d":"2021-07-07","v":-0.084},{"d":"2021-07-11","v":-0.072},{"d":"2021-07-15","v":-0.024},{"d":"2021-07-19","v":-0.054},{"d":"2021-07-22","v":-0.060},{"d":"2021-07-26","v":-0.114},{"d":"2021-07-28","v":-0.054},{"d":"2021-08-02","v":0.0},{"d":"2021-08-04","v":0.024},{"d":"2021-08-09","v":0.048},{"d":"2021-08-13","v":0.066},{"d":"2021-08-23","v":0.084},{"d":"2021-08-30","v":0.114},{"d":"2021-09-02","v":0.155},{"d":"2021-09-06","v":0.203},{"d":"2021-09-10","v":0.138},{"d":"2021-09-14","v":0.036},{"d":"2021-09-18","v":0.024},{"d":"2021-09-22","v":-0.012},{"d":"2021-09-25","v":-0.024},{"d":"2021-09-29","v":-0.006},{"d":"2021-10-03","v":0.024},{"d":"2021-10-08","v":0.096},{"d":"2021-10-11","v":0.126},{"d":"2021-10-16","v":0.155},{"d":"2021-10-19","v":0.203},{"d":"2021-10-23","v":0.179},{"d":"2021-10-27","v":0.197},{"d":"2021-11-01","v":0.215},{"d":"2021-11-06","v":0.227},{"d":"2021-11-09","v":0.263},{"d":"2021-11-11","v":0.185},{"d":"2021-11-15","v":0.167},{"d":"2021-11-20","v":0.114},{"d":"2021-11-24","v":0.084},{"d":"2021-12-04","v":0.078},{"d":"2021-12-09","v":0.060},{"d":"2021-12-16","v":0.036},{"d":"2021-12-23","v":0.042},{"d":"2021-12-30","v":0.060},{"d":"2022-01-06","v":0.055},{"d":"2022-01-11","v":0.048},{"d":"2022-01-13","v":0.012},{"d":"2022-01-20","v":0.012},{"d":"2022-01-25","v":0.038},{"d":"2022-01-27","v":-0.002},{"d":"2022-02-02","v":-0.031},{"d":"2022-02-08","v":-0.008},{"d":"2022-02-15","v":0.041},{"d":"2022-02-20","v":0.027},{"d":"2022-02-26","v":-0.010},{"d":"2022-02-28","v":-0.022},{"d":"2022-03-04","v":0.013},{"d":"2022-03-06","v":0.012},{"d":"2022-03-09","v":0.027},{"d":"2022-03-11","v":0.003},{"d":"2022-03-14","v":0.004},{"d":"2022-03-17","v":0.0229}
],
"pspr": [
{"d":"2020-07-30","v":0.5006},{"d":"2020-08-04","v":0.2466},{"d":"2020-08-06","v":0.1936},{"d":"2020-08-09","v":0.1826},{"d":"2020-08-10","v":0.1236},{"d":"2020-08-13","v":0.1082},{"d":"2020-08-16","v":0.1282},{"d":"2020-08-18","v":0.2552},{"d":"2020-08-20","v":0.2392},{"d":"2020-08-24","v":0.2362},{"d":"2020-08-26","v":0.1082},{"d":"2020-08-30","v":0.1042},{"d":"2020-09-02","v":0.1543},{"d":"2020-09-06","v":0.0983},{"d":"2020-09-08","v":0.0693},{"d":"2020-09-11","v":0.0113},{"d":"2020-09-13","v":-0.0067},{"d":"2020-09-17","v":-0.0427},{"d":"2020-09-21","v":-0.0807},{"d":"2020-09-25","v":-0.0607},{"d":"2020-09-30","v":-0.0097},{"d":"2020-10-02","v":0.0045},{"d":"2020-10-04","v":-0.0025},{"d":"2020-10-06","v":-0.0285},{"d":"2020-10-08","v":-0.0175},{"d":"2020-10-10","v":0.0075},{"d":"2020-10-14","v":0.0495},{"d":"2020-10-16","v":0.0448},{"d":"2020-10-18","v":0.0218},{"d":"2020-10-22","v":0.0118},{"d":"2020-10-24","v":0.0278},{"d":"2020-10-26","v":0.0398},{"d":"2020-10-30","v":0.0168},{"d":"2020-11-01","v":0.0033},{"d":"2020-11-04","v":-0.0267},{"d":"2020-11-07","v":0.0273},{"d":"2020-11-11","v":0.1463},{"d":"2020-11-14","v":0.1763},{"d":"2020-11-18","v":0.2303},{"d":"2020-11-21","v":0.3983},{"d":"2020-11-25","v":0.4343},{"d":"2020-11-27","v":0.3263},{"d":"2020-11-28","v":0.3143},{"d":"2020-12-02","v":0.2238},{"d":"2020-12-07","v":0.1758},{"d":"2020-12-10","v":0.1168},{"d":"2020-12-13","v":0.1288},{"d":"2020-12-15","v":0.2058},{"d":"2020-12-19","v":0.2658},{"d":"2020-12-22","v":0.3138},{"d":"2020-12-28","v":0.3978},{"d":"2021-01-03","v":0.4869},{"d":"2021-01-07","v":0.5212},{"d":"2021-01-11","v":0.5812},{"d":"2021-01-13","v":0.5512},{"d":"2021-01-17","v":0.5452},{"d":"2021-01-21","v":0.4552},{"d":"2021-01-24","v":0.3842},{"d":"2021-01-27","v":0.3062},{"d":"2021-01-28","v":0.0972},{"d":"2021-01-31","v":0.1152},{"d":"2021-02-03","v":0.2936},{"d":"2021-02-07","v":0.4426},{"d":"2021-02-09","v":0.6226},{"d":"2021-02-12","v":0.7402},{"d":"2021-02-14","v":0.8302},{"d":"2021-02-17","v":0.9502},{"d":"2021-02-19","v":1.0392},{"d":"2021-02-22","v":1.05},{"d":"2021-02-24","v":0.889},{"d":"2021-02-27","v":0.68},{"d":"2021-03-01","v":0.4097},{"d":"2021-03-03","v":0.1517},{"d":"2021-03-05","v":0.2597},{"d":"2021-03-09","v":0.4987},{"d":"2021-03-13","v":0.6053},{"d":"2021-03-16","v":0.5573},{"d":"2021-03-20","v":0.4083},{"d":"2021-03-23","v":0.1983},{"d":"2021-03-26","v":0.1983},{"d":"2021-03-28","v":0.3183},{"d":"2021-04-01","v":0.4978},{"d":"2021-04-04","v":0.6058},{"d":"2021-04-07","v":0.6418},{"d":"2021-04-10","v":0.4978},{"d":"2021-04-13","v":0.5878},{"d":"2021-04-16","v":0.6058},{"d":"2021-04-19","v":0.5878},{"d":"2021-04-23","v":0.2888},{"d":"2021-04-26","v":0.1988},{"d":"2021-04-28","v":0.0798},{"d":"2021-05-02","v":0.0799},{"d":"2021-05-05","v":0.1689},{"d":"2021-05-08","v":0.2409},{"d":"2021-05-11","v":0.2169},{"d":"2021-05-14","v":0.2289},{"d":"2021-05-17","v":0.1389},{"d":"2021-05-19","v":-0.1001},{"d":"2021-05-22","v":-0.1711},{"d":"2021-05-25","v":-0.2011},{"d":"2021-05-27","v":-0.2371},{"d":"2021-05-28","v":-0.1001},{"d":"2021-05-31","v":0.0199},{"d":"2021-06-04","v":0.0443},{"d":"2021-06-08","v":0.0323},{"d":"2021-06-11","v":-0.0087},{"d":"2021-06-16","v":-0.0207},{"d":"2021-06-20","v":-0.0387},{"d":"2021-06-23","v":-0.1287},{"d":"2021-06-27","v":-0.1697},{"d":"2021-06-29","v":-0.1467},{"d":"2021-07-02","v":-0.0977},{"d":"2021-07-07","v":-0.0977},{"d":"2021-07-11","v":-0.0846},{"d":"2021-07-15","v":-0.0366},{"d":"2021-07-19","v":-0.0666},{"d":"2021-07-22","v":-0.0726},{"d":"2021-07-26","v":-0.1266},{"d":"2021-07-28","v":-0.0666},{"d":"2021-08-02","v":-0.0127},{"d":"2021-08-04","v":0.0113},{"d":"2021-08-09","v":0.0353},{"d":"2021-08-13","v":0.0533},{"d":"2021-08-23","v":0.0713},{"d":"2021-08-30","v":0.1013},{"d":"2021-09-02","v":0.1418},{"d":"2021-09-06","v":0.1898},{"d":"2021-09-10","v":0.1248},{"d":"2021-09-14","v":0.0228},{"d":"2021-09-18","v":0.0108},{"d":"2021-09-22","v":-0.0252},{"d":"2021-09-25","v":-0.0388},{"d":"2021-09-29","v":-0.0208},{"d":"2021-10-03","v":0.0084},{"d":"2021-10-08","v":0.0804},{"d":"2021-10-11","v":0.1104},{"d":"2021-10-16","v":0.139},{"d":"2021-10-19","v":0.187},{"d":"2021-10-23","v":0.163},{"d":"2021-10-27","v":0.181},{"d":"2021-11-01","v":0.1995},{"d":"2021-11-06","v":0.2115},{"d":"2021-11-09","v":0.2475},{"d":"2021-11-11","v":0.1695},{"d":"2021-11-15","v":0.1515},{"d":"2021-11-20","v":0.0985},{"d":"2021-11-24","v":0.0685},{"d":"2021-12-04","v":0.0635},{"d":"2021-12-09","v":0.0455},{"d":"2021-12-16","v":0.0215},{"d":"2021-12-23","v":0.0275},{"d":"2021-12-30","v":0.0455},{"d":"2022-01-06","v":0.0385},{"d":"2022-01-11","v":0.0302},{"d":"2022-01-13","v":-0.0058},{"d":"2022-01-20","v":-0.0058},{"d":"2022-01-25","v":0.0202},{"d":"2022-01-27","v":-0.0198},{"d":"2022-02-02","v":-0.0503},{"d":"2022-02-08","v":-0.0273},{"d":"2022-02-15","v":0.0217},{"d":"2022-02-20","v":0.0077},{"d":"2022-02-26","v":-0.029},{"d":"2022-02-28","v":-0.041},{"d":"2022-03-04","v":-0.0048},{"d":"2022-03-06","v":-0.0058},{"d":"2022-03-09","v":0.0092},{"d":"2022-03-11","v":-0.018},{"d":"2022-03-14","v":-0.017},{"d":"2022-03-17","v":0.0012}
]
},
"vconcat": [
{
  "width": 1431, "height": 242,
  "data": {"name": "fut"},
  "encoding": {
    "y": {"field": "v", "type": "quantitative", "scale": {"domain": [-0.0067, 0.481]},
          "axis": {"values": [0, 0.2, 0.4, 0.481], "format": ".0%", "labelFlush": 5,
                   "labelExpr": "datum.value === 0.481 ? '' : datum.label",
                   "tickColor": {"condition": {"test": "datum.value === 0.481", "value": "#d0d0d0"}, "value": "transparent"},
                   "gridColor": {"condition": {"test": "datum.value === 0", "value": "#bdbdbd"}, "value": "#ececec"},
                   "gridDash": {"condition": {"test": "datum.value === 0", "value": [2, 2]}, "value": []},
                   "gridWidth": {"condition": {"test": "datum.value === 0", "value": 1.5}, "value": 1},
                   "title": ["Futures Annualized Basis", "3M"], "titleX": -102, "titleY": 118, "titleAngle": -90, "titleAlign": "center", "titleBaseline": "middle", "titleLineHeight": 25}}
  },
  "layer": [
    {"mark": {"type": "line", "color": "#151b3d", "strokeWidth": 2.2},
     "encoding": {"x": {"field": "d", "type": "temporal", "scale": {"type": "utc", "domain": [{"year": 2020, "month": 6, "date": 29, "utc": true}, {"year": 2022, "month": 4, "date": 17, "utc": true}]}, "axis": null}}},
    {"transform": [{"filter": {"field": "d", "gte": {"year": 2022, "month": 3, "date": 16, "utc": true}}}],
     "mark": {"type": "circle", "size": 50, "color": "#151b3d", "opacity": 1},
     "encoding": {"x": {"field": "d", "type": "temporal", "scale": {"type": "utc", "domain": [{"year": 2020, "month": 6, "date": 29, "utc": true}, {"year": 2022, "month": 4, "date": 17, "utc": true}]}, "axis": null}}},
    {"transform": [{"filter": {"field": "d", "gte": {"year": 2022, "month": 3, "date": 16, "utc": true}}}],
     "mark": {"type": "text", "fontSize": 20, "color": "#1e2238", "align": "center", "baseline": "middle", "dx": -3, "dy": -16},
     "encoding": {"x": {"field": "d", "type": "temporal", "scale": {"type": "utc", "domain": [{"year": 2020, "month": 6, "date": 29, "utc": true}, {"year": 2022, "month": 4, "date": 17, "utc": true}]}, "axis": null},
                  "text": {"field": "v", "type": "quantitative", "format": ".2%"}}}
  ]
},
{
  "width": 1431, "height": 242,
  "data": {"name": "tsy"},
  "encoding": {
    "y": {"field": "v", "type": "quantitative", "scale": {"domain": [0.00423, 0.02276]},
          "axis": {"values": [0.005, 0.01, 0.015, 0.02, 0.02276], "format": ".2%",
                   "labelExpr": "datum.value === 0.02276 ? '' : datum.label",
                   "tickColor": {"condition": {"test": "datum.value === 0.02276", "value": "#d0d0d0"}, "value": "transparent"},
                   "title": "Treasury 10YR", "titleX": -102, "titleY": 120.5, "titleAngle": -90, "titleAlign": "center", "titleBaseline": "middle"}}
  },
  "layer": [
    {"mark": {"type": "line", "color": "#151b3d", "strokeWidth": 2.2},
     "encoding": {"x": {"field": "d", "type": "temporal", "scale": {"type": "utc", "domain": [{"year": 2020, "month": 6, "date": 29, "utc": true}, {"year": 2022, "month": 4, "date": 17, "utc": true}]}, "axis": null}}},
    {"transform": [{"filter": {"field": "d", "gte": {"year": 2022, "month": 3, "date": 16, "utc": true}}}],
     "mark": {"type": "circle", "size": 50, "color": "#151b3d", "opacity": 1},
     "encoding": {"x": {"field": "d", "type": "temporal", "scale": {"type": "utc", "domain": [{"year": 2020, "month": 6, "date": 29, "utc": true}, {"year": 2022, "month": 4, "date": 17, "utc": true}]}, "axis": null}}},
    {"transform": [{"filter": {"field": "d", "gte": {"year": 2022, "month": 3, "date": 16, "utc": true}}}],
     "mark": {"type": "text", "fontSize": 20, "color": "#1e2238", "align": "left", "baseline": "middle", "dx": 5, "dy": 13},
     "encoding": {"x": {"field": "d", "type": "temporal", "scale": {"type": "utc", "domain": [{"year": 2020, "month": 6, "date": 29, "utc": true}, {"year": 2022, "month": 4, "date": 17, "utc": true}]}, "axis": null},
                  "text": {"field": "v", "type": "quantitative", "format": ".2%"}}}
  ]
},
{
  "width": 1431, "height": 245,
  "data": {"name": "con"},
  "encoding": {
    "y": {"field": "v", "type": "quantitative", "scale": {"domain": [0.0034, 0.4688]},
          "axis": {"values": [0.1, 0.2, 0.4, 0.4688], "format": ".0%",
                   "labelExpr": "datum.value === 0.1 || datum.value === 0.4688 ? '' : datum.label",
                   "tickColor": {"condition": {"test": "datum.value === 0.4688", "value": "#d0d0d0"}, "value": "transparent"},
                   "gridColor": {"condition": {"test": "datum.value === 0.1", "value": "#b8b8b8"}, "value": "#ececec"},
                   "gridDash": {"condition": {"test": "datum.value === 0.1", "value": [3, 6]}, "value": []},
                   "gridWidth": {"condition": {"test": "datum.value === 0.1", "value": 3}, "value": 1},
                   "title": "Contango Treasury Spread", "titleX": -102, "titleY": 122, "titleAngle": -90, "titleAlign": "center", "titleBaseline": "middle"}}
  },
  "layer": [
    {"mark": {"type": "line", "color": "#151b3d", "strokeWidth": 2.2},
     "encoding": {"x": {"field": "d", "type": "temporal", "scale": {"type": "utc", "domain": [{"year": 2020, "month": 6, "date": 29, "utc": true}, {"year": 2022, "month": 4, "date": 17, "utc": true}]}, "axis": null}}},
    {"transform": [{"filter": {"field": "d", "gte": {"year": 2022, "month": 3, "date": 16, "utc": true}}}],
     "mark": {"type": "circle", "size": 50, "color": "#151b3d", "opacity": 1},
     "encoding": {"x": {"field": "d", "type": "temporal", "scale": {"type": "utc", "domain": [{"year": 2020, "month": 6, "date": 29, "utc": true}, {"year": 2022, "month": 4, "date": 17, "utc": true}]}, "axis": null}}},
    {"transform": [{"filter": {"field": "d", "gte": {"year": 2022, "month": 3, "date": 16, "utc": true}}}],
     "mark": {"type": "text", "fontSize": 20, "color": "#1e2238", "align": "center", "baseline": "middle", "dx": -3, "dy": -18},
     "encoding": {"x": {"field": "d", "type": "temporal", "scale": {"type": "utc", "domain": [{"year": 2020, "month": 6, "date": 29, "utc": true}, {"year": 2022, "month": 4, "date": 17, "utc": true}]}, "axis": null},
                  "text": {"field": "v", "type": "quantitative", "format": ".2%"}}},
    {"data": {"values": [{"ref": 0.1}]},
     "mark": {"type": "text", "fontSize": 20, "color": "#2f3349", "align": "left", "baseline": "middle", "dx": 4, "dy": -15},
     "encoding": {"x": {"datum": {"year": 2020, "month": 6, "date": 29, "utc": true}, "type": "temporal", "scale": {"type": "utc", "domain": [{"year": 2020, "month": 6, "date": 29, "utc": true}, {"year": 2022, "month": 4, "date": 17, "utc": true}]}, "axis": null},
                  "y": {"field": "ref", "type": "quantitative", "scale": {"domain": [0.0034, 0.4688]},
                        "axis": {"values": [0.1, 0.2, 0.4, 0.4688], "format": ".0%",
                                 "labelExpr": "datum.value === 0.1 || datum.value === 0.4688 ? '' : datum.label",
                                 "tickColor": {"condition": {"test": "datum.value === 0.4688", "value": "#d0d0d0"}, "value": "transparent"},
                                 "gridColor": {"condition": {"test": "datum.value === 0.1", "value": "#b8b8b8"}, "value": "#ececec"},
                                 "gridDash": {"condition": {"test": "datum.value === 0.1", "value": [3, 6]}, "value": []},
                                 "gridWidth": {"condition": {"test": "datum.value === 0.1", "value": 3}, "value": 1},
                                 "title": "Contango Treasury Spread", "titleX": -102, "titleY": 122, "titleAngle": -90, "titleAlign": "center", "titleBaseline": "middle"}},
                  "text": {"field": "ref", "type": "quantitative", "format": ".0%"}}}
  ]
},
{
  "width": 1431, "height": 244,
  "data": {"name": "perp"},
  "encoding": {
    "y": {"field": "v", "type": "quantitative", "scale": {"domain": [-0.289, 1.141]},
          "axis": {"values": [0, 0.5, 1, 1.141], "format": ".0%",
                   "labelExpr": "datum.value === 1.141 ? '' : datum.label",
                   "tickColor": {"condition": {"test": "datum.value === 1.141", "value": "#d0d0d0"}, "value": "transparent"},
                   "gridColor": {"condition": {"test": "datum.value === 0", "value": "#b0b0b0"}, "value": "#ececec"},
                   "gridDash": {"condition": {"test": "datum.value === 0", "value": [3, 3]}, "value": []},
                   "title": ["Perps Funding 7D MA", "Annualized"], "titleX": -102, "titleY": 120, "titleAngle": -90, "titleAlign": "center", "titleBaseline": "middle", "titleLineHeight": 25}}
  },
  "layer": [
    {"mark": {"type": "line", "strokeWidth": 2.2,
              "stroke": {"gradient": "linear", "x1": 0, "y1": 0, "x2": 0, "y2": 1,
                         "stops": [{"offset": 0, "color": "#151b3d"}, {"offset": 0.82802, "color": "#151b3d"}, {"offset": 0.82802, "color": "#ea8a2e"}, {"offset": 1, "color": "#ea8a2e"}]}},
     "encoding": {"x": {"field": "d", "type": "temporal", "scale": {"type": "utc", "domain": [{"year": 2020, "month": 6, "date": 29, "utc": true}, {"year": 2022, "month": 4, "date": 17, "utc": true}]}, "axis": null}}},
    {"transform": [{"filter": {"field": "d", "gte": {"year": 2022, "month": 3, "date": 16, "utc": true}}}],
     "mark": {"type": "circle", "size": 50, "color": "#151b3d", "opacity": 1},
     "encoding": {"x": {"field": "d", "type": "temporal", "scale": {"type": "utc", "domain": [{"year": 2020, "month": 6, "date": 29, "utc": true}, {"year": 2022, "month": 4, "date": 17, "utc": true}]}, "axis": null}}},
    {"transform": [{"filter": {"field": "d", "gte": {"year": 2022, "month": 3, "date": 16, "utc": true}}}],
     "mark": {"type": "text", "fontSize": 20, "color": "#1e2238", "align": "left", "baseline": "middle", "dx": 5, "dy": 0},
     "encoding": {"x": {"field": "d", "type": "temporal", "scale": {"type": "utc", "domain": [{"year": 2020, "month": 6, "date": 29, "utc": true}, {"year": 2022, "month": 4, "date": 17, "utc": true}]}, "axis": null},
                  "text": {"field": "v", "type": "quantitative", "format": ".2%"}}}
  ]
},
{
  "width": 1431, "height": 243,
  "data": {"name": "pspr"},
  "encoding": {
    "x": {"field": "d", "type": "temporal", "scale": {"type": "utc", "domain": [{"year": 2020, "month": 6, "date": 29, "utc": true}, {"year": 2022, "month": 4, "date": 17, "utc": true}]},
          "axis": {"title": null,
                   "values": [{"year": 2020, "month": 6, "date": 29, "utc": true}, {"year": 2020, "month": 7, "date": 1, "utc": true}, {"year": 2020, "month": 9, "date": 1, "utc": true}, {"year": 2020, "month": 11, "date": 1, "utc": true}, {"year": 2021, "month": 1, "date": 1, "utc": true}, {"year": 2021, "month": 3, "date": 1, "utc": true}, {"year": 2021, "month": 5, "date": 1, "utc": true}, {"year": 2021, "month": 7, "date": 1, "utc": true}, {"year": 2021, "month": 9, "date": 1, "utc": true}, {"year": 2021, "month": 11, "date": 1, "utc": true}, {"year": 2022, "month": 1, "date": 1, "utc": true}, {"year": 2022, "month": 3, "date": 1, "utc": true}, {"year": 2022, "month": 4, "date": 17, "utc": true}],
                   "labelExpr": "utcFormat(datum.value, '%d') === '01' ? utcFormat(datum.value, '%b') + '’' + utcFormat(datum.value, '%y') : ''",
                   "grid": false, "domain": false, "ticks": true,
                   "tickColor": {"condition": {"test": "utcFormat(datum.value, '%d') !== '01'", "value": "#d0d0d0"}, "value": "#efefef"},
                   "tickSize": 46, "labelPadding": -31, "labelFlush": 12, "labelFontSize": 20}},
    "y": {"field": "v", "type": "quantitative", "scale": {"domain": [-0.302, 1.123]},
          "axis": {"values": [-0.302, 0, 0.5, 1, 1.123], "format": ".0%",
                   "labelExpr": "datum.value === 1.123 || datum.value === -0.302 ? '' : datum.label",
                   "tickColor": {"condition": {"test": "datum.value === 1.123 || datum.value === -0.302", "value": "#d0d0d0"}, "value": "transparent"},
                   "gridColor": {"condition": {"test": "datum.value === 0", "value": "#b0b0b0"}, "value": "#ececec"},
                   "gridDash": {"condition": {"test": "datum.value === 0", "value": [3, 3]}, "value": []},
                   "title": "Perps Treasury Spread", "titleX": -102, "titleY": 118, "titleAngle": -90, "titleAlign": "center", "titleBaseline": "middle"}}
  },
  "layer": [
    {"mark": {"type": "line", "strokeWidth": 2.2,
              "stroke": {"gradient": "linear", "x1": 0, "y1": 0, "x2": 0, "y2": 1,
                         "stops": [{"offset": 0, "color": "#151b3d"}, {"offset": 0.81579, "color": "#151b3d"}, {"offset": 0.81579, "color": "#ea8a2e"}, {"offset": 1, "color": "#ea8a2e"}]}}},
    {"transform": [{"filter": {"field": "d", "gte": {"year": 2022, "month": 3, "date": 16, "utc": true}}}],
     "mark": {"type": "circle", "size": 50, "color": "#151b3d", "opacity": 1}},
    {"transform": [{"filter": {"field": "d", "gte": {"year": 2022, "month": 3, "date": 16, "utc": true}}}],
     "mark": {"type": "text", "fontSize": 20, "color": "#1e2238", "align": "left", "baseline": "middle", "dx": 5, "dy": 0},
     "encoding": {"text": {"field": "v", "type": "quantitative", "format": ".2%"}}}
  ]
}
]
}
